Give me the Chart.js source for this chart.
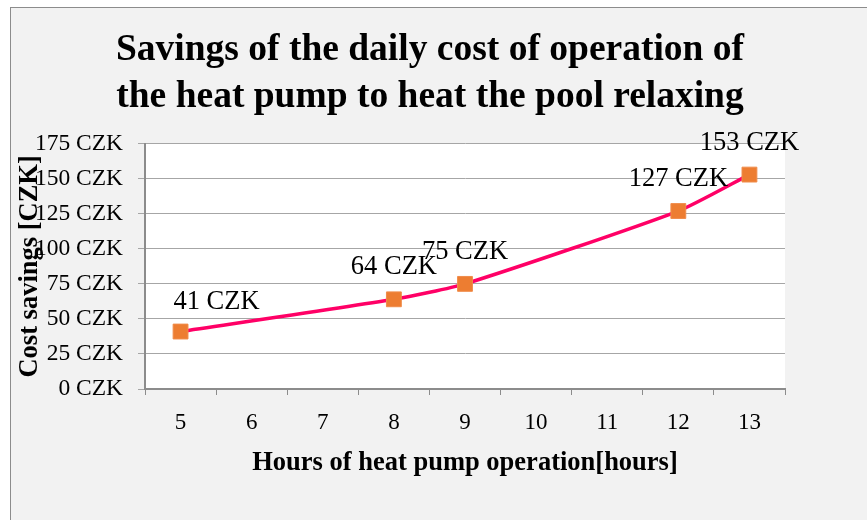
<!DOCTYPE html>
<html>
<head>
<meta charset="utf-8">
<script src="https://cdn.jsdelivr.net/npm/chart.js@4"></script>
<style>
  html, body { margin: 0; padding: 0; background: #fff; }
  .frame {
    position: absolute; left: 10px; top: 7px;
    width: 870px; height: 520px;
    background: #f2f2f2; border: 1px solid #8c8c8c;
  }
  #chart { position: absolute; left: 0; top: 0; }
</style>
</head>
<body>
<div class="frame"></div>
<canvas id="chart" width="867" height="520"></canvas>
<script>
/* ── Data ── */
const hours   = ['5', '6', '7', '8', '9', '10', '11', '12', '13'];
const savings = [41, null, null, 64, 75, null, null, 127, 153];
const yTicks  = [0, 25, 50, 75, 100, 125, 150, 175];

const SERIF = "'Liberation Serif', 'Times New Roman', serif";

/* ── White plot area ── */
const plotBackground = {
  id: 'plotBackground',
  beforeDraw(chart) {
    const { ctx, chartArea: a } = chart;
    ctx.save();
    ctx.fillStyle = '#ffffff';
    ctx.fillRect(a.left, a.top, a.right - a.left, a.bottom - a.top);
    ctx.restore();
  }
};

/* ── Value labels above points ── */
const valueLabels = {
  id: 'valueLabels',
  afterDatasetsDraw(chart, args, opts) {
    const { ctx } = chart;
    const meta = chart.getDatasetMeta(0);
    ctx.save();
    ctx.font = opts.font;
    ctx.fillStyle = '#000';
    ctx.textAlign = 'center';
    ctx.textBaseline = 'middle';
    let n = 0;
    meta.data.forEach((pt, i) => {
      const v = savings[i];
      if (v == null) return;
      const dx = n === 0 ? opts.firstShift : 0;
      const dy = n === 0 ? opts.lift - 3 : opts.lift;
      ctx.fillText(v + ' CZK', pt.x + dx, pt.y - dy);
      n++;
    });
    ctx.restore();
  }
};

new Chart(document.getElementById('chart'), {
  type: 'line',
  data: {
    labels: hours,
    datasets: [{
      data: savings,
      spanGaps: true,
      borderColor: '#ff0066',
      borderWidth: 3.5,
      tension: 0.2,
      pointStyle: 'rect',
      pointRadius: 10.5,
      pointBackgroundColor: '#ed7d31',
      pointBorderColor: '#f08c4a',
      pointBorderWidth: 1
    }]
  },
  options: {
    responsive: false,
    animation: false,
    layout: { padding: { left: 0, right: 7, top: 0, bottom: 0 } },
    plugins: {
      legend: { display: false },
      tooltip: { enabled: false },
      title: {
        display: true,
        text: ['Savings of the daily cost of operation of', 'the heat pump to heat the pool relaxing'],
        color: '#000',
        font: { family: SERIF, size: 37.5, weight: 'bold', lineHeight: 1.25 },
        padding: { top: 27, bottom: 23 }
      },
      valueLabels: { font: '26.5px ' + SERIF, lift: 32, firstShift: 36 }
    },
    scales: {
      x: {
        offset: true,
        grid: { offset: true, drawOnChartArea: false, drawTicks: true, tickLength: 6, color: '#8c8c8c' },
        border: { color: '#8c8c8c', width: 2 },
        ticks: { color: '#000', font: { family: SERIF, size: 23 }, padding: 14, maxRotation: 0 },
        title: {
          display: true,
          text: 'Hours of heat pump operation[hours]',
          color: '#000',
          font: { family: SERIF, size: 26.5, weight: 'bold', lineHeight: 1.2 },
          padding: { top: 0, bottom: 41 }
        },
        afterFit: s => { s.height = 131; }
      },
      y: {
        min: 0,
        max: 175,
        afterBuildTicks: s => { s.ticks = yTicks.map(v => ({ value: v })); },
        grid: { color: '#a6a6a6', tickLength: 7 },
        border: { color: '#8c8c8c', width: 2 },
        ticks: { color: '#000', font: { family: SERIF, size: 23.5 }, padding: 15, callback: v => v + ' CZK' },
        title: {
          display: true,
          text: 'Cost savings [CZK]',
          color: '#000',
          font: { family: SERIF, size: 26.5, weight: 'bold', lineHeight: 1.2 },
          padding: { top: 14, bottom: 0 }
        },
        afterFit: s => { s.width = 145; }
      },
      // empty spacer on the right so the title stays centred on the frame
      spacer: {
        type: 'linear',
        position: 'right',
        display: true,
        grid: { display: false },
        border: { display: false },
        ticks: { display: false },
        afterFit: s => { s.width = 75; }
      }
    }
  },
  plugins: [plotBackground, valueLabels]
});
</script>
</body>
</html>
